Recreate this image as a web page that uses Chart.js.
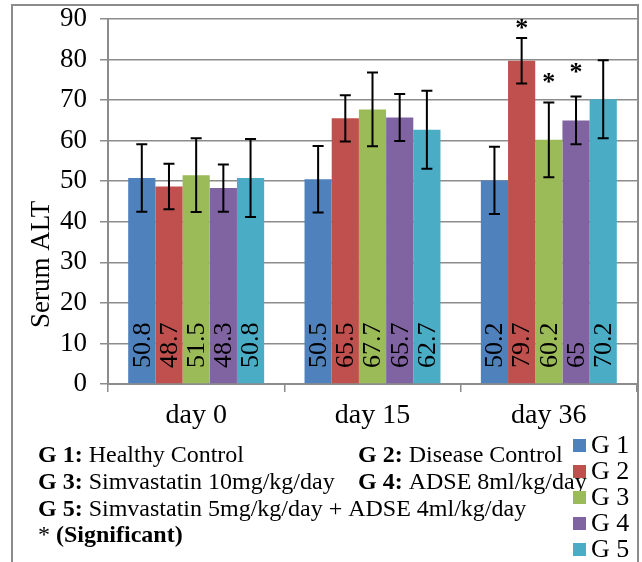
<!DOCTYPE html>
<html><head><meta charset="utf-8">
<script src="https://cdn.jsdelivr.net/npm/chart.js@4/dist/chart.umd.min.js"></script>
<style>html,body{margin:0;padding:0;background:#fff}#wrap{width:642px;height:562px;position:relative}canvas{display:block}</style>
</head><body><div id="wrap"><canvas id="c" width="642" height="562"></canvas></div>
<script>
// ---- data ----
const categories = ['day 0', 'day 15', 'day 36'];
const seriesNames = ['G 1', 'G 2', 'G 3', 'G 4', 'G 5'];
const g1 = [50.8, 50.5, 50.2];
const g2 = [48.7, 65.5, 79.7];
const g3 = [51.5, 67.7, 60.2];
const g4 = [48.3, 65.7, 65];
const g5 = [50.8, 62.7, 70.2];
const g1Err = [8.3, 8.2, 8.3];
const g2Err = [5.6, 5.7, 5.6];
const g3Err = [9.1, 9.1, 9.2];
const g4Err = [5.8, 5.8, 5.9];
const g5Err = [9.6, 9.6, 9.6];
const g1Sig = [false, false, false];
const g2Sig = [false, false, true];
const g3Sig = [false, false, true];
const g4Sig = [false, false, true];
const g5Sig = [false, false, false];
const yMin = 0, yMax = 90, yStep = 10;
const yTitle = 'Serum ALT';
const noteRows = [
  [['G 1:', ' Healthy Control'], ['G 2:', ' Disease Control']],
  [['G 3:', ' Simvastatin 10mg/kg/day'], ['G 4:', ' ADSE 8ml/kg/day']],
  [['G 5:', ' Simvastatin 5mg/kg/day + ADSE 4ml/kg/day']],
];
const sigNote = ['* ', '(Significant)'];

const colors = ['#4F81BD', '#C0504D', '#9BBB59', '#8064A2', '#4BACC6'];
const values = [g1, g2, g3, g4, g5];
const errors = [g1Err, g2Err, g3Err, g4Err, g5Err];
const sigs = [g1Sig, g2Sig, g3Sig, g4Sig, g5Sig];
const SERIF = "'Liberation Serif', 'Times New Roman', serif";

const datasets = seriesNames.map((n, i) => ({
  label: n, data: values[i], backgroundColor: colors[i], borderWidth: 0,
  errors: errors[i], sig: sigs[i],
  categoryPercentage: 0.771, barPercentage: 1.0
}));

const framePlugin = {
  id: 'frame',
  beforeDraw(chart) {
    const ctx = chart.ctx;
    ctx.save();
    ctx.fillStyle = '#fff';
    ctx.fillRect(0, 0, chart.width, chart.height);
    ctx.strokeStyle = '#8c8c8c';
    ctx.lineWidth = 2;
    ctx.beginPath();
    ctx.moveTo(12, 600); ctx.lineTo(12, 5); ctx.lineTo(638, 5); ctx.lineTo(638, 600);
    ctx.stroke();
    ctx.restore();
  },
  afterDraw(chart) {
    const ctx = chart.ctx;
    const ys = chart.scales.y;
    ctx.save();
    ctx.translate(42, ys.getPixelForValue(29.5));
    ctx.rotate(-Math.PI / 2);
    ctx.fillStyle = '#000';
    ctx.font = '27px ' + SERIF;
    ctx.textAlign = 'center';
    ctx.textBaseline = 'middle';
    ctx.fillText(yTitle, 0, 0);
    ctx.restore();
  }
};

const errPlugin = {
  id: 'errbars',
  afterDatasetsDraw(chart, args, opts) {
    const ctx = chart.ctx;
    const ys = chart.scales.y;
    ctx.save();
    let starIdx = 0;
    chart.data.datasets.forEach((ds, di) => {
      const meta = chart.getDatasetMeta(di);
      meta.data.forEach((bar, j) => {
        const v = ds.data[j], e = ds.errors[j];
        const x = bar.x;
        const yt = ys.getPixelForValue(v + e), yb = ys.getPixelForValue(v - e);
        ctx.strokeStyle = '#000';
        ctx.lineWidth = 2;
        ctx.beginPath();
        ctx.moveTo(x, yt); ctx.lineTo(x, yb);
        ctx.moveTo(x - 5.5, yt); ctx.lineTo(x + 5.5, yt);
        ctx.moveTo(x - 5.5, yb); ctx.lineTo(x + 5.5, yb);
        ctx.stroke();
        ctx.save();
        ctx.translate(x, ys.getPixelForValue(0) - 16);
        ctx.rotate(-Math.PI / 2);
        ctx.fillStyle = '#000';
        ctx.font = '26px ' + SERIF;
        ctx.textAlign = 'left';
        ctx.textBaseline = 'middle';
        ctx.fillText(String(v), 0, 1);
        ctx.restore();
        if (ds.sig[j]) {
          const lift = opts.lift[starIdx++] || 16;
          ctx.fillStyle = '#000';
          ctx.font = 'bold 26px ' + SERIF;
          ctx.textAlign = 'center';
          ctx.textBaseline = 'alphabetic';
          ctx.fillText('*', x, yt - lift + 9);
        }
      });
    });
    ctx.restore();
  }
};

const notesPlugin = {
  id: 'notes',
  afterDraw(chart) {
    const ctx = chart.ctx;
    ctx.save();
    ctx.fillStyle = '#000';
    ctx.textBaseline = 'alphabetic';
    ctx.textAlign = 'left';
    const colX = [38, 358];
    const baseY = [462, 489, 516];
    const drawPieces = (pieces, x, y) => {
      ctx.font = 'bold 24px ' + SERIF;
      ctx.fillText(pieces[0], x, y);
      const w = ctx.measureText(pieces[0]).width;
      ctx.font = '24px ' + SERIF;
      ctx.fillText(pieces[1], x + w, y);
    };
    noteRows.forEach((row, r) => {
      row.forEach((pieces, c) => drawPieces(pieces, colX[c], baseY[r]));
    });
    ctx.font = '24px ' + SERIF;
    ctx.fillText(sigNote[0], 38, 542);
    const w0 = ctx.measureText(sigNote[0]).width;
    ctx.font = 'bold 24px ' + SERIF;
    ctx.fillText(sigNote[1], 38 + w0, 542);
    chart.data.datasets.forEach((ds, i) => {
      const cy = 445.5 + i * 26;
      ctx.fillStyle = ds.backgroundColor;
      ctx.fillRect(573, cy - 6.5, 13, 13);
      ctx.fillStyle = '#000';
      ctx.font = '26px ' + SERIF;
      ctx.textBaseline = 'middle';
      ctx.fillText(ds.label, 591, cy + 1);
    });
    ctx.restore();
  }
};

new Chart(document.getElementById('c'), {
  type: 'bar',
  data: { labels: categories, datasets },
  options: {
    responsive: false,
    animation: false,
    devicePixelRatio: 1,
    layout: { padding: { left: 0, right: 5, top: 19, bottom: 0 } },
    plugins: {
      legend: { display: false },
      tooltip: { enabled: false },
      errbars: { lift: [11, 22, 25] }
    },
    scales: {
      x: {
        afterFit: s => { s.height = 178; },
        grid: { drawOnChartArea: false, drawTicks: true, tickLength: 8, color: '#8c8c8c', lineWidth: 1.5, offset: true },
        border: { color: '#8c8c8c', width: 2 },
        ticks: { color: '#000', font: { family: SERIF, size: 28 }, padding: 7 }
      },
      y: {
        min: yMin, max: yMax,
        afterFit: s => { s.width = 108; s.paddingTop = 0; s.paddingBottom = 0; },
        grid: { color: '#8c8c8c', lineWidth: 1.5, tickLength: 8 },
        border: { color: '#8c8c8c', width: 2 },
        ticks: { stepSize: yStep, color: '#000', font: { family: SERIF, size: 27 }, padding: 13 }
      }
    }
  },
  plugins: [framePlugin, errPlugin, notesPlugin]
});
</script></body></html>
